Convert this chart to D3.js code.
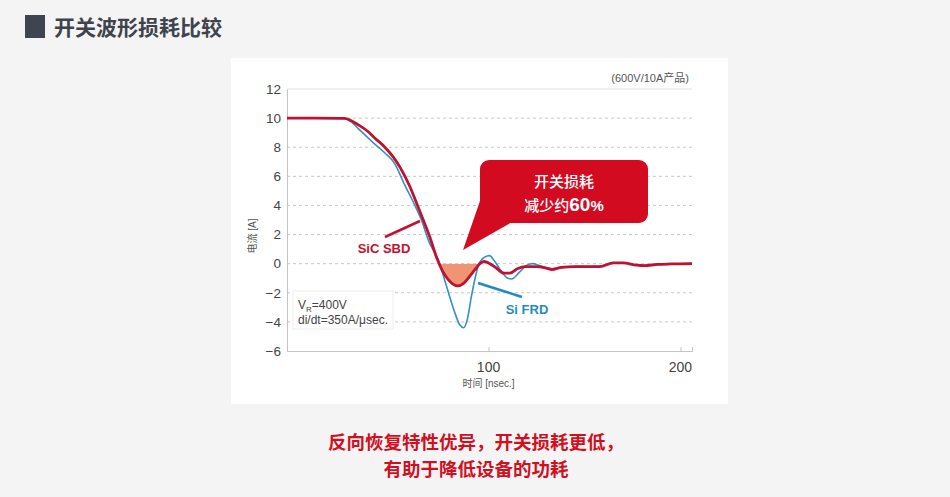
<!DOCTYPE html>
<html>
<head>
  <meta charset="UTF-8">
  <title>开关波形损耗比较</title>
  <style>
    body { margin: 0; background: #f4f4f4; }
    svg { display: block; }
    text { font-family: "Liberation Sans", "Noto Sans CJK SC", sans-serif; }
    .cjk { font-family: "Noto Sans CJK SC", sans-serif; }
  </style>
</head>
<body>
<svg></svg>
<script src="https://d3js.org/d3.v7.min.js"></script>
<script>

// time [nsec.] and current [A]
let sicTime = [-5, 10, 25, 28, 32, 37, 41, 46, 50.5, 54, 59, 63, 66, 69.5, 73, 76, 79, 82, 84, 87, 90, 93, 95.5, 97.5, 100, 104, 108, 111, 115, 119, 125, 130, 133, 138, 145, 158, 165, 170, 177, 181, 188, 195, 206];
let sicCurrent = [10, 10, 9.98, 9.85, 9.55, 9.1, 8.6, 8.0, 7.3, 6.6, 5.3, 4.0, 3.0, 1.8, 0.4, -0.5, -1.1, -1.45, -1.52, -1.35, -0.9, -0.4, 0, 0.15, 0.05, -0.3, -0.65, -0.65, -0.35, -0.2, -0.2, -0.3, -0.4, -0.25, -0.2, -0.2, 0.05, 0.05, -0.1, -0.14, -0.05, -0.02, 0];

let siTime = [-5, 10, 25, 28, 32, 40, 46, 51, 56, 62, 65, 69, 74, 78, 82, 85, 87, 89, 91, 93, 95, 98, 100.5, 103, 106, 109, 112, 116, 120, 123, 127, 133, 140, 145, 158, 165, 170, 177, 181, 188, 195, 206];
let siCurrent = [10, 10, 9.98, 9.8, 9.3, 8.3, 7.6, 6.9, 5.5, 3.9, 3.0, 1.5, 0.2, -1.5, -3.2, -4.2, -4.4, -3.8, -2.3, -1.0, 0, 0.45, 0.55, 0.2, -0.4, -0.9, -1.05, -0.6, -0.1, 0, -0.15, -0.35, -0.25, -0.2, -0.18, 0.05, 0.05, -0.1, -0.13, -0.05, -0.02, 0];

let yTicks = [-6, -4, -2, 0, 2, 4, 6, 8, 10, 12];
let xTicks = [100, 200];

let width = 950, height = 497;

let svg = d3.select("svg")
    .attr("width", width)
    .attr("height", height);

// title
svg.append("rect")
    .attr("x", 25).attr("y", 15)
    .attr("width", 20).attr("height", 23)
    .attr("fill", "#3e4550");
svg.append("text")
    .attr("class", "cjk")
    .attr("x", 54).attr("y", 35)
    .attr("font-size", 21).attr("font-weight", 700)
    .attr("fill", "#3f444c")
    .text("开关波形损耗比较");

// white panel
svg.append("rect")
    .attr("x", 231).attr("y", 58)
    .attr("width", 497).attr("height", 346)
    .attr("fill", "#fff");

let x = d3.scaleLinear().domain([-5, 206]).range([287, 692]);
let y = d3.scaleLinear().domain([-6, 12]).range([351, 89]);

// grid
svg.append("g")
    .selectAll("line")
    .data(yTicks.filter(d => d > -6 && d < 12))
    .enter()
    .append("line")
    .attr("x1", x(-5)).attr("x2", x(206))
    .attr("y1", d => y(d)).attr("y2", d => y(d))
    .attr("stroke", "#c8c8c8")
    .attr("stroke-dasharray", "3,3");

svg.append("line")
    .attr("x1", x(-5)).attr("x2", x(206))
    .attr("y1", y(12)).attr("y2", y(12))
    .attr("stroke", "#e2e2e2");

// axes
let yAxis = svg.append("g")
    .attr("transform", "translate(" + x(-5) + ",0)")
    .call(d3.axisLeft(y).tickValues(yTicks).tickSize(0).tickPadding(6).tickFormat(d => d < 0 ? "\u2212" + Math.abs(d) : d));
yAxis.select(".domain").attr("stroke", "#c4c4c4");
yAxis.selectAll("text").attr("font-size", 13.5).attr("fill", "#444");

let xAxis = svg.append("g")
    .attr("transform", "translate(0," + y(-6) + ")")
    .call(d3.axisTop(x).tickValues(xTicks).tickSize(4).tickFormat(""));
xAxis.select(".domain").attr("stroke", "#c4c4c4");
xAxis.selectAll("line").attr("stroke", "#c4c4c4");

svg.append("g")
    .selectAll("text")
    .data(xTicks)
    .enter()
    .append("text")
    .attr("x", d => x(d))
    .attr("y", 372)
    .attr("text-anchor", "middle")
    .attr("font-size", 14).attr("fill", "#444")
    .text(d => d);

svg.append("text")
    .attr("x", x(100)).attr("y", 387)
    .attr("text-anchor", "middle")
    .attr("font-size", 10).attr("fill", "#555")
    .html('<tspan class="cjk">时间</tspan> [nsec.]');

svg.append("text")
    .attr("transform", "translate(256,236) rotate(-90)")
    .attr("text-anchor", "middle")
    .attr("font-size", 10).attr("fill", "#555")
    .html('<tspan class="cjk">电流</tspan> [A]');

svg.append("text")
    .attr("x", 689).attr("y", 82)
    .attr("text-anchor", "end")
    .attr("font-size", 11).attr("fill", "#555")
    .html('(600V/10A<tspan class="cjk">产品</tspan>)');

// conditions box
svg.append("rect")
    .attr("x", 293).attr("y", 291)
    .attr("width", 100).attr("height", 38)
    .attr("fill", "#fff").attr("stroke", "#eeeeee");
svg.append("text")
    .attr("x", 298).attr("y", 309)
    .attr("font-size", 12).attr("fill", "#444")
    .html('V<tspan font-size="8" dy="3">R</tspan><tspan dy="-3">=400V</tspan>');
svg.append("text")
    .attr("x", 298).attr("y", 324)
    .attr("font-size", 12).attr("fill", "#444")
    .text("di/dt=350A/μsec.");

// loss area under SiC curve
let sic = sicTime.map((t, i) => ({t: t, v: sicCurrent[i]}));
let si = siTime.map((t, i) => ({t: t, v: siCurrent[i]}));

svg.append("defs").append("clipPath")
    .attr("id", "below")
    .append("rect")
    .attr("x", x(-5)).attr("y", y(0))
    .attr("width", x(206) - x(-5)).attr("height", y(-6) - y(0));

let curve = d3.curveMonotoneX;

svg.append("path")
    .datum(sic.filter(d => d.t >= 69.5 && d.t <= 97.5))
    .attr("clip-path", "url(#below)")
    .attr("fill", "#f09473")
    .attr("d", d3.area().x(d => x(d.t)).y0(y(0)).y1(d => y(d.v)).curve(curve));

let line = d3.line().x(d => x(d.t)).y(d => y(d.v)).curve(curve);

svg.append("path")
    .datum(si)
    .attr("fill", "none")
    .attr("stroke", "#3591c2")
    .attr("stroke-width", 1.6)
    .attr("d", line);

svg.append("path")
    .datum(sic)
    .attr("fill", "none")
    .attr("stroke", "#be1230")
    .attr("stroke-width", 2.8)
    .attr("d", line);

// labels
svg.append("line")
    .attr("x1", 385).attr("y1", 237).attr("x2", 420).attr("y2", 221)
    .attr("stroke", "#c3112e").attr("stroke-width", 2.5);
svg.append("text")
    .attr("x", 384).attr("y", 253)
    .attr("text-anchor", "middle")
    .attr("font-size", 13).attr("font-weight", 700)
    .attr("fill", "#c3112e")
    .text("SiC SBD");

svg.append("line")
    .attr("x1", 478).attr("y1", 283).attr("x2", 522).attr("y2", 297)
    .attr("stroke", "#1f8dbf").attr("stroke-width", 2.5);
svg.append("text")
    .attr("x", 527).attr("y", 314)
    .attr("text-anchor", "middle")
    .attr("font-size", 13).attr("font-weight", 700)
    .attr("fill", "#1f8dbf")
    .text("Si FRD");

// callout
svg.append("path")
    .attr("d", "M481,198 L512,222 L463,250 Z")
    .attr("fill", "#d20b21");
svg.append("rect")
    .attr("x", 480).attr("y", 160)
    .attr("width", 168).attr("height", 63)
    .attr("rx", 9)
    .attr("fill", "#d20b21");
svg.append("text")
    .attr("class", "cjk")
    .attr("x", 564).attr("y", 187)
    .attr("text-anchor", "middle")
    .attr("font-size", 15).attr("font-weight", 500)
    .attr("fill", "#fff")
    .text("开关损耗");
svg.append("text")
    .attr("x", 564).attr("y", 211)
    .attr("text-anchor", "middle")
    .attr("fill", "#fff")
    .html('<tspan class="cjk" font-size="15" font-weight="500">减少约</tspan><tspan font-size="19" font-weight="700">60</tspan><tspan font-size="15" font-weight="700">%</tspan>');

// bottom message
let msg = ["反向恢复特性优异，开关损耗更低，", "有助于降低设备的功耗"];
svg.append("g")
    .selectAll("text")
    .data(msg)
    .enter()
    .append("text")
    .attr("class", "cjk")
    .attr("x", 476)
    .attr("y", (d, i) => 449 + i * 27)
    .attr("text-anchor", "middle")
    .attr("font-size", 18.5).attr("font-weight", 700)
    .attr("fill", "#d0101f")
    .text(d => d);

</script>
</body>
</html>
